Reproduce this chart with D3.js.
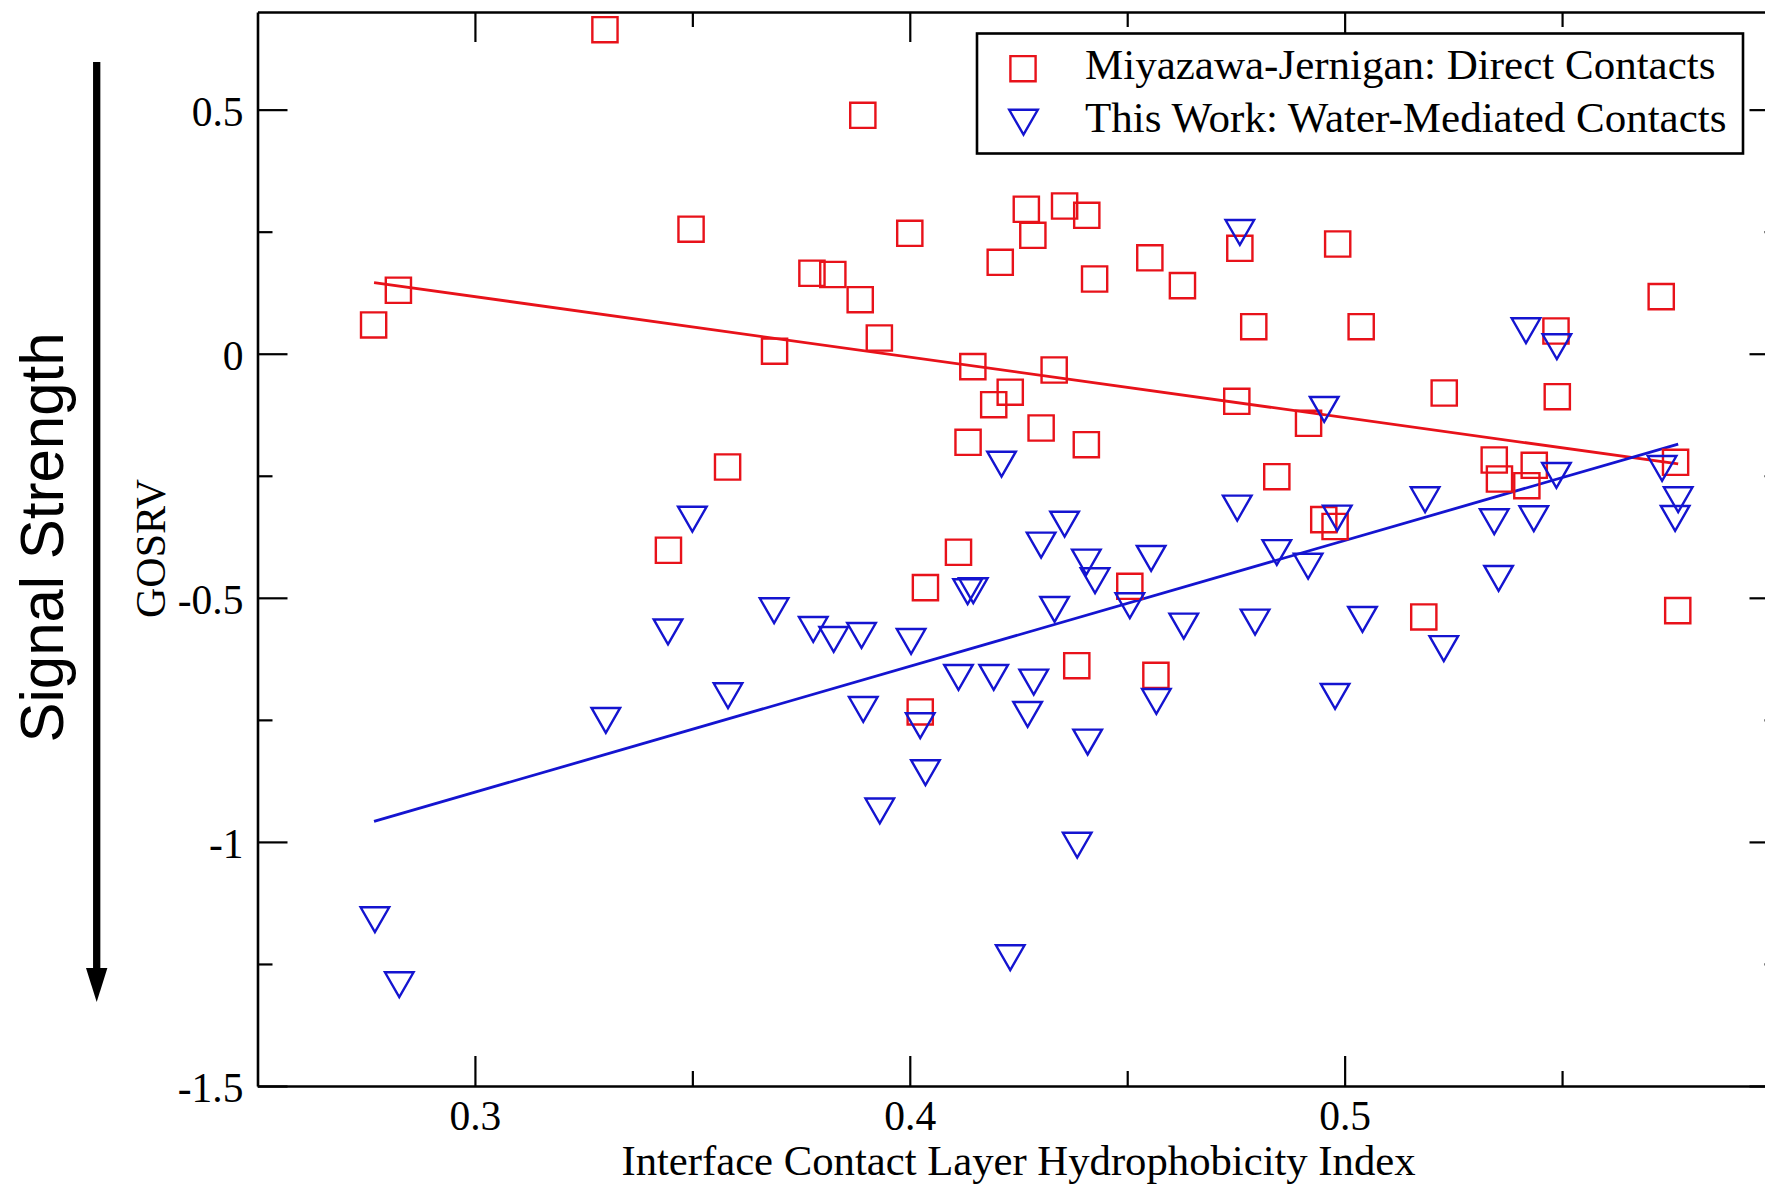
<!DOCTYPE html>
<html lang="en">
<head>
<meta charset="UTF-8">
<title>GOSRV vs interface hydrophobicity</title>
<script src="https://cdn.jsdelivr.net/npm/d3@7/dist/d3.min.js"></script>
<style>
body { margin: 0; background: #fff; overflow: hidden; }
svg { display: block; }
</style>
</head>
<body>
<svg id="chart" width="1765" height="1185"></svg>
<script>
// values
const mjX = [0.2767, 0.2824, 0.3299, 0.3892, 0.3497, 0.4000, 0.3775, 0.3823, 0.3886, 0.3930,
             0.3689, 0.4208, 0.4268, 0.4283, 0.4356, 0.4407, 0.4425, 0.4552, 0.4627, 0.4759,
             0.4984, 0.4791, 0.5038, 0.5728, 0.5486, 0.5489, 0.5229, 0.4145, 0.4332, 0.4231,
             0.4193, 0.4134, 0.4302, 0.4406, 0.4752, 0.4917, 0.4844, 0.4952, 0.4978, 0.5344,
             0.5356, 0.5436, 0.5419, 0.5761, 0.5766, 0.5182, 0.4506, 0.4036, 0.4112, 0.4384,
             0.4566, 0.4024, 0.3581, 0.3445];
const mjY = [0.0589, 0.1300, 0.6637, 0.4884, 0.2551, 0.2467, 0.1648, 0.1623, 0.1107, 0.0322,
             0.0052, 0.1873, 0.2959, 0.2426, 0.3026, 0.2836, 0.1531, 0.1965, 0.1394, 0.2160,
             0.2248, 0.0554, 0.0554, 0.1169, 0.0466, -0.0880, -0.0804, -0.0265, -0.0333, -0.0788,
             -0.1044, -0.1814, -0.1521, -0.1863, -0.0974, -0.1425, -0.2519, -0.3399, -0.3539, -0.2177,
             -0.2566, -0.2285, -0.2703, -0.2224, -0.5263, -0.5392, -0.4764, -0.4792, -0.4067, -0.6390,
             -0.6587, -0.7338, -0.2320, -0.4026];

const waterX = [0.2770, 0.2826, 0.3301, 0.3444, 0.3500, 0.3582, 0.3688, 0.3778, 0.3825, 0.3889,
                0.3893, 0.3931, 0.4003, 0.4024, 0.4036, 0.4112, 0.4133, 0.4146, 0.4193, 0.4211,
                0.4231, 0.4271, 0.4285, 0.4302, 0.4333, 0.4356, 0.4385, 0.4406, 0.4409, 0.4426,
                0.4506, 0.4555, 0.4567, 0.4630, 0.4753, 0.4759, 0.4794, 0.4844, 0.4916, 0.4953,
                0.4983, 0.4978, 0.5041, 0.5185, 0.5228, 0.5344, 0.5354, 0.5417, 0.5488, 0.5435,
                0.5487, 0.5730, 0.5767, 0.5760];
const waterY = [-1.1605, -1.2937, -0.7523, -0.5710, -0.3400, -0.7017, -0.5276, -0.5659, -0.5864, -0.5782,
                -0.7298, -0.9378, -0.5905, -0.7631, -0.8594, -0.6642, -0.4887, -0.4866, -0.6642, -0.2273,
                -1.2384, -0.7400, -0.6738, -0.3932, -0.5249, -0.3502, -1.0079, -0.4280, -0.7967, -0.4661,
                -0.5173, -0.4204, -0.7134, -0.5591, -0.3174, 0.2473, -0.5509, -0.4085, -0.4364, -0.1152,
                -0.3379, -0.7031, -0.5454, -0.3002, -0.6052, -0.3453, -0.4614, 0.0460, 0.0132, -0.3391,
                -0.2504, -0.2361, -0.3002, -0.3385];

// end points of the two fitted lines
const fitX = [0.2768, 0.5767];
const mjFitY = [0.1457, -0.2258];
const waterFitY = [-0.958, -0.185];

const xMajor = [0.3, 0.4, 0.5];
const xMinor = [0.35, 0.45, 0.55];
const yMajor = [-1.5, -1, -0.5, 0, 0.5];
const yMinor = [-1.25, -0.75, -0.25, 0.25];

const seriesNames = ['Miyazawa-Jernigan: Direct Contacts', 'This Work: Water-Mediated Contacts'];

const serif = "'Liberation Serif', 'Times New Roman', serif";
const red = '#e8121a', blue = '#1414d0';

// plot frame (the right edge sits just outside the picture, as in the original)
const m = {left: 257.5, top: 12, right: 1779.5, bottom: 1086};
const x = d3.scaleLinear().domain([0.25, 0.6]).range([m.left, m.right]);
const y = d3.scaleLinear().domain([-1.5, 0.7]).range([m.bottom, m.top]);

const svg = d3.select('#chart');

// ---- axes, ticks point inwards on all four sides
function styleAxis(g) {
    g.attr('font-family', serif).attr('font-size', 41.5);
    g.select('.domain').attr('stroke-width', 2.6);
    g.selectAll('.tick line').attr('stroke-width', 2.2);
}
function minor(g) {
    g.select('.domain').remove();
    g.selectAll('.tick line').attr('stroke-width', 2.2);
}
const fmt = d => String(d);

svg.append('g').attr('transform', `translate(0,${m.bottom})`)
    .call(d3.axisBottom(x).tickValues(xMajor).tickSize(-30).tickSizeOuter(0).tickPadding(15).tickFormat(fmt))
    .call(styleAxis);
svg.append('g').attr('transform', `translate(0,${m.bottom})`)
    .call(d3.axisBottom(x).tickValues(xMinor).tickSize(-15).tickFormat(''))
    .call(minor);

svg.append('g').attr('transform', `translate(0,${m.top})`)
    .call(d3.axisTop(x).tickValues(xMajor).tickSize(-30).tickSizeOuter(0).tickFormat(''))
    .call(styleAxis);
svg.append('g').attr('transform', `translate(0,${m.top})`)
    .call(d3.axisTop(x).tickValues(xMinor).tickSize(-15).tickFormat(''))
    .call(minor);

svg.append('g').attr('transform', `translate(${m.left},0)`)
    .call(d3.axisLeft(y).tickValues(yMajor).tickSize(-30).tickSizeOuter(0).tickPadding(14).tickFormat(fmt))
    .call(styleAxis)
    .call(g => g.selectAll('.tick text').attr('dy', '0.38em'));
svg.append('g').attr('transform', `translate(${m.left},0)`)
    .call(d3.axisLeft(y).tickValues(yMinor).tickSize(-15).tickFormat(''))
    .call(minor);

svg.append('g').attr('transform', `translate(${m.right},0)`)
    .call(d3.axisRight(y).tickValues(yMajor).tickSize(-30).tickSizeOuter(0).tickFormat(''))
    .call(styleAxis);
svg.append('g').attr('transform', `translate(${m.right},0)`)
    .call(d3.axisRight(y).tickValues(yMinor).tickSize(-15).tickFormat(''))
    .call(minor);

// ---- axis titles
svg.append('text')
    .attr('x', (m.left + m.right) / 2).attr('y', 1175)
    .attr('text-anchor', 'middle')
    .attr('font-family', serif).attr('font-size', 42.7)
    .text('Interface Contact Layer Hydrophobicity Index');

svg.append('text')
    .attr('transform', 'translate(164.5,548.5) rotate(-90)')
    .attr('text-anchor', 'middle')
    .attr('font-family', serif).attr('font-size', 42)
    .text('GOSRV');

// big "Signal Strength" arrow on the far left
svg.append('text')
    .attr('transform', 'translate(63,537.5) rotate(-90)')
    .attr('text-anchor', 'middle')
    .attr('font-family', "'Liberation Sans', Arial, sans-serif").attr('font-size', 62)
    .attr('textLength', 410).attr('lengthAdjust', 'spacingAndGlyphs')
    .text('Signal Strength');
svg.append('line')
    .attr('x1', 96.7).attr('x2', 96.7).attr('y1', 62).attr('y2', 972)
    .attr('stroke', '#000').attr('stroke-width', 7.3);
svg.append('path')
    .attr('d', 'M86,968L107.4,968L96.7,1002Z')
    .attr('fill', '#000');

// ---- fitted lines
const line = d3.line().x(d => x(d[0])).y(d => y(d[1]));
svg.append('path')
    .attr('d', line(d3.zip(fitX, mjFitY)))
    .attr('fill', 'none').attr('stroke', red).attr('stroke-width', 2.8);
svg.append('path')
    .attr('d', line(d3.zip(fitX, waterFitY)))
    .attr('fill', 'none').attr('stroke', blue).attr('stroke-width', 2.8);

// ---- symbols (hollow square, hollow down-pointing triangle)
const squareType = {
    draw(ctx, size) {
        const h = Math.sqrt(size) / 2;
        ctx.rect(-h, -h, 2 * h, 2 * h);
    }
};
const triDownType = {
    draw(ctx, size) {
        const s = Math.sqrt(size);
        ctx.moveTo(-0.5 * s, -0.455 * s);
        ctx.lineTo(0.5 * s, -0.455 * s);
        ctx.lineTo(0, 0.413 * s);
        ctx.closePath();
    }
};
const squarePath = d3.symbol().type(squareType).size(25.2 * 25.2)();
const triPath = d3.symbol().type(triDownType).size(28.6 * 28.6)();

svg.append('g')
    .selectAll('path')
    .data(d3.zip(mjX, mjY))
    .join('path')
    .attr('transform', d => `translate(${x(d[0])},${y(d[1])})`)
    .attr('d', squarePath)
    .attr('fill', 'none').attr('stroke', red).attr('stroke-width', 2.4);

svg.append('g')
    .selectAll('path')
    .data(d3.zip(waterX, waterY))
    .join('path')
    .attr('transform', d => `translate(${x(d[0])},${y(d[1])})`)
    .attr('d', triPath)
    .attr('fill', 'none').attr('stroke', blue).attr('stroke-width', 2.4)
    .attr('stroke-linejoin', 'miter');

// ---- legend
const legend = svg.append('g').attr('font-family', serif).attr('font-size', 43);
legend.append('rect')
    .attr('x', 977).attr('y', 33.5).attr('width', 766).attr('height', 120)
    .attr('fill', '#fff').attr('stroke', '#000').attr('stroke-width', 2.6);
legend.append('path')
    .attr('transform', 'translate(1023,68.7)')
    .attr('d', squarePath)
    .attr('fill', 'none').attr('stroke', red).attr('stroke-width', 2.4);
legend.append('path')
    .attr('transform', 'translate(1023.5,122.8)')
    .attr('d', triPath)
    .attr('fill', 'none').attr('stroke', blue).attr('stroke-width', 2.4);
legend.selectAll('text.item')
    .data(seriesNames)
    .join('text')
    .attr('class', 'item')
    .attr('x', 1085)
    .attr('y', (d, i) => i === 0 ? 79 : 131.5)
    .text(d => d);
</script>
</body>
</html>
